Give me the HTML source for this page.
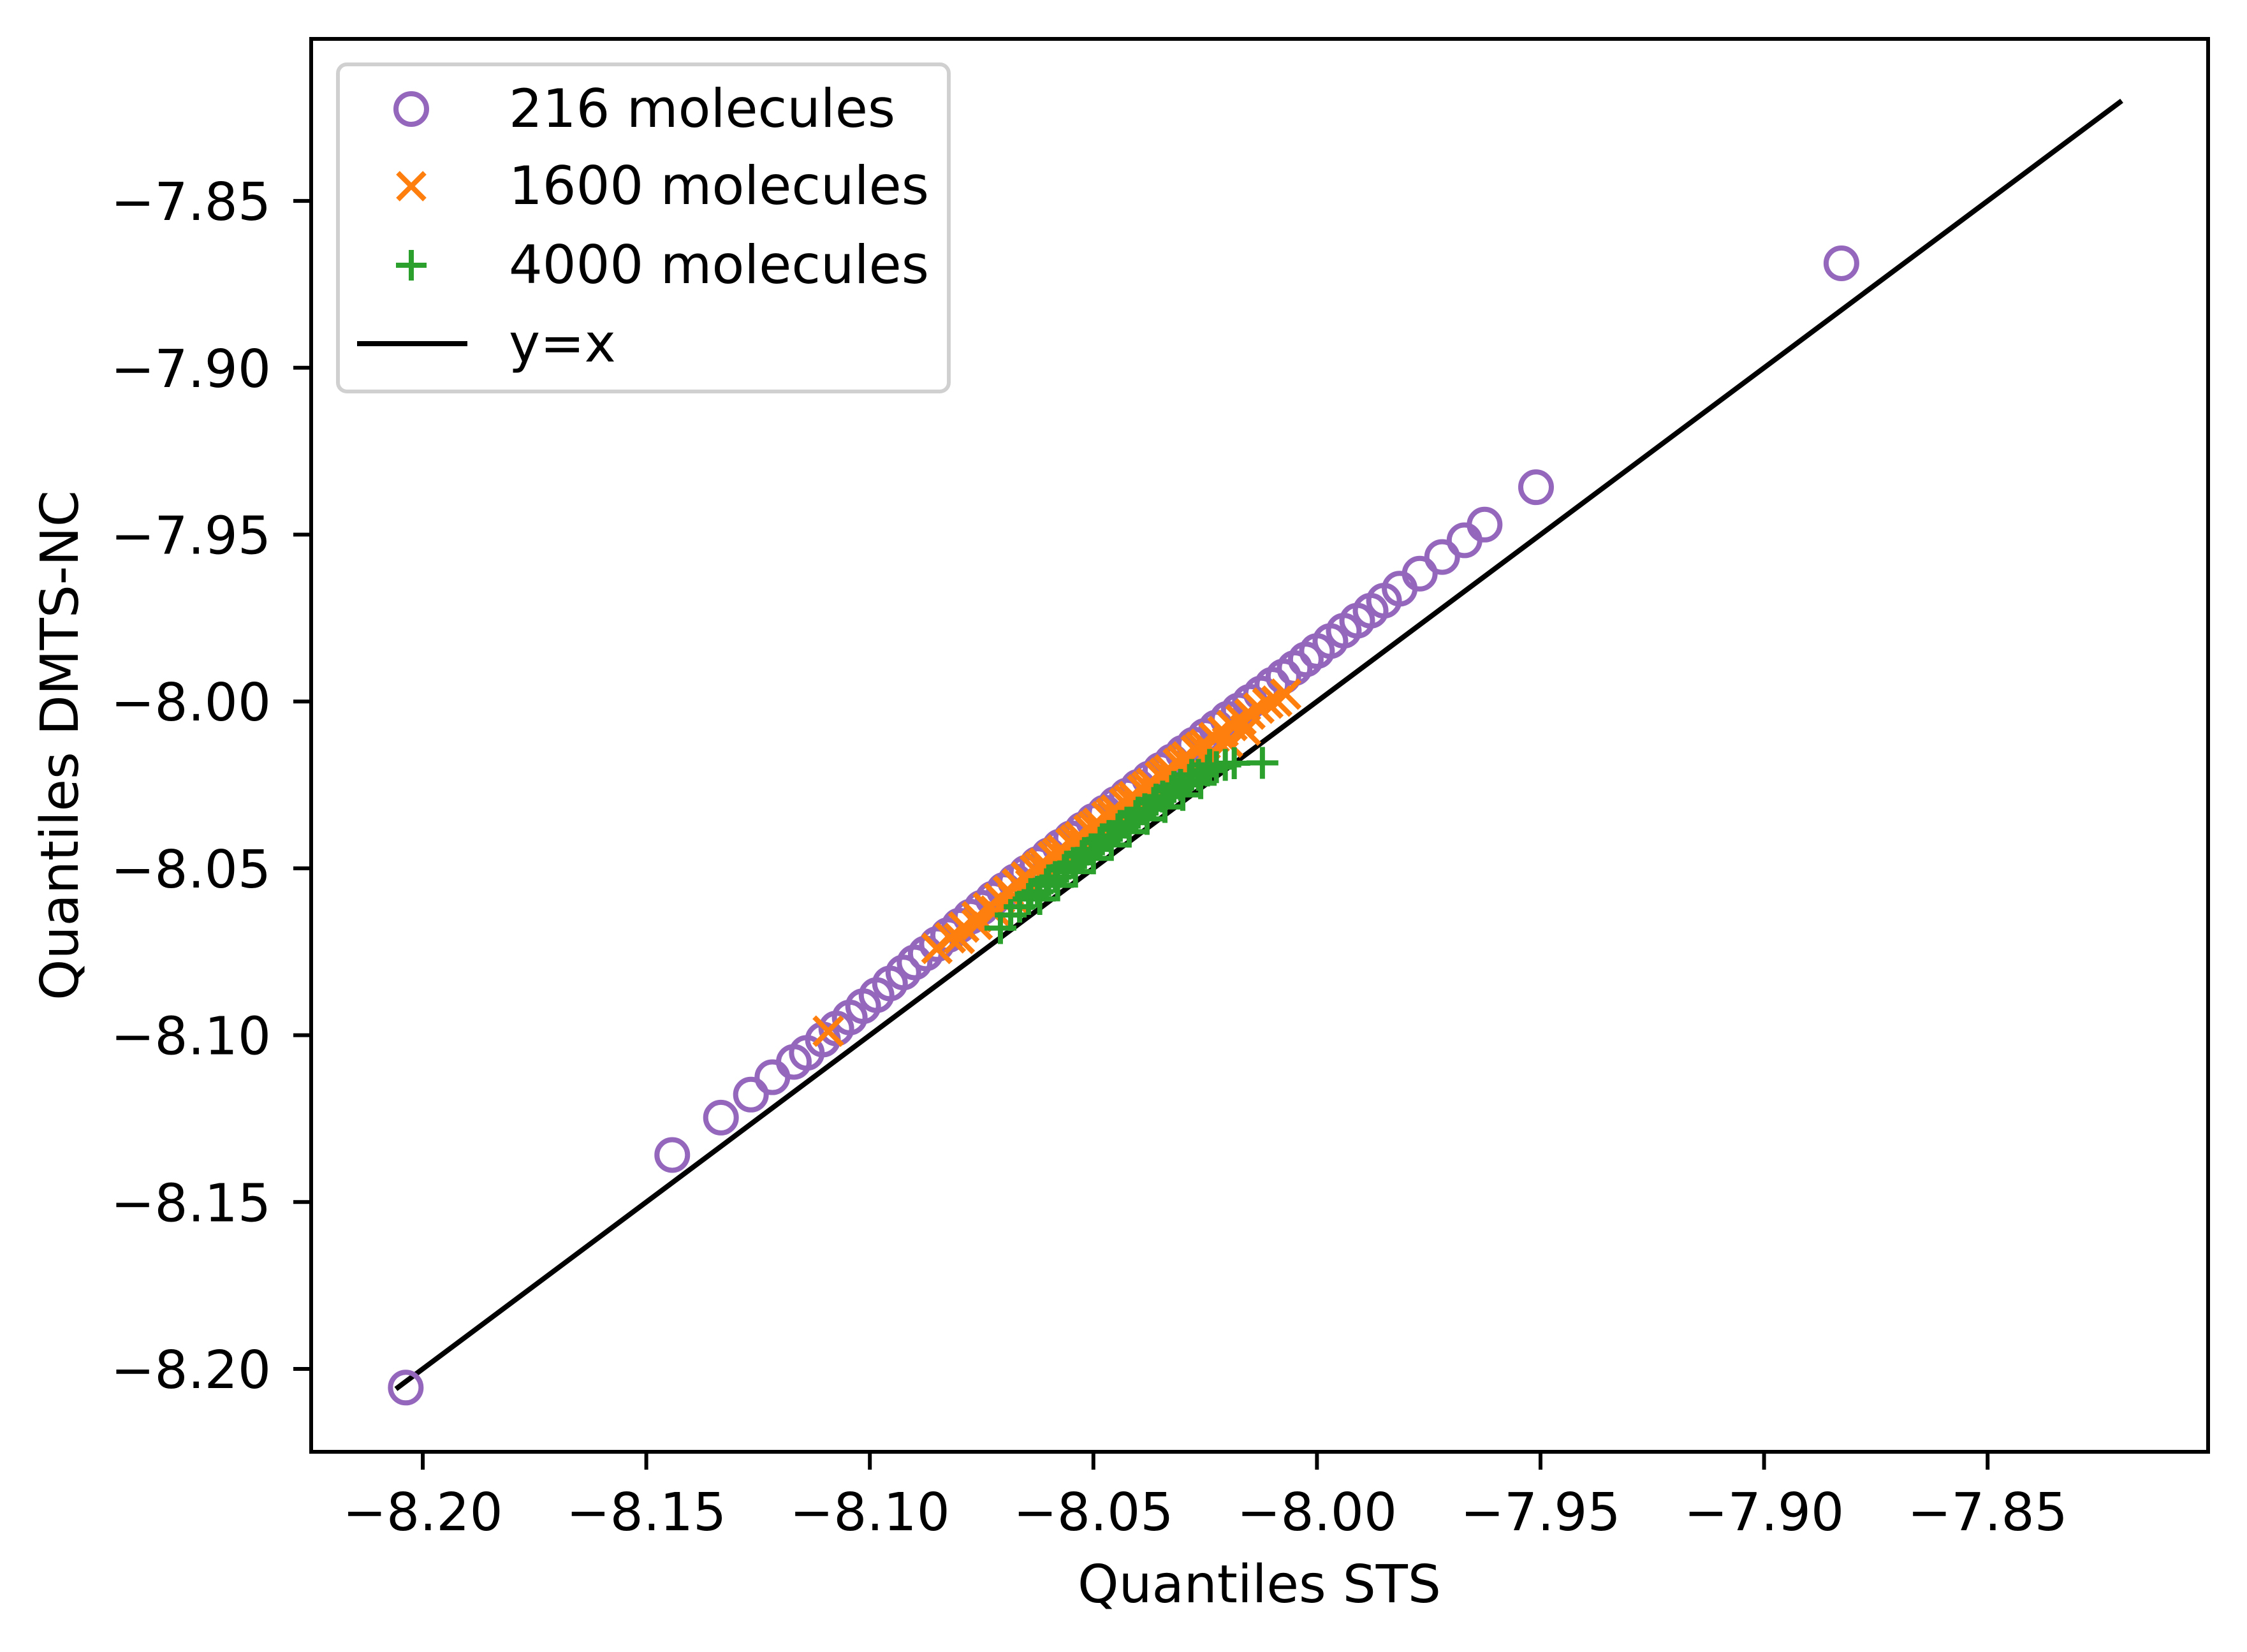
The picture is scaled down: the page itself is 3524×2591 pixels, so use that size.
<!DOCTYPE html>
<html><head><meta charset="utf-8"><style>
html,body{margin:0;padding:0;background:#fff}
svg{display:block}
text{font-family:"DejaVu Sans","Liberation Sans",sans-serif;fill:#000}
</style></head><body>
<svg id="chart" width="3524" height="2591" viewBox="0 0 3524 2591" xmlns="http://www.w3.org/2000/svg">
<rect x="0" y="0" width="3524" height="2591" fill="#fff"/>
<g id="marks"></g>
<g id="axes"></g>
<text x="1975" y="2513" font-size="82" text-anchor="middle">Quantiles STS</text>
<text x="0" y="0" font-size="82" text-anchor="middle" transform="translate(122,1169) rotate(-90)">Quantiles DMTS-NC</text>
<g>
<rect x="530" y="101" width="958" height="513" rx="14" fill="#fff" fill-opacity="0.8" stroke="#d0d0d0" stroke-width="6"/>
<circle cx="645" cy="171" r="24" fill="none" stroke="#9467bd" stroke-width="8"/>
<text x="798" y="199" font-size="83">216 molecules</text>
<path d="M624 271 L666 313 M666 271 L624 313" stroke="#ff7f0e" stroke-width="8"/>
<text x="798" y="320" font-size="83">1600 molecules</text>
<path d="M621 416 L669 416 M645 392 L645 440" stroke="#2ca02c" stroke-width="8"/>
<text x="798" y="444" font-size="83">4000 molecules</text>
<line x1="560" y1="539" x2="733" y2="539" stroke="#000" stroke-width="8"/>
<text x="798" y="567" font-size="83">y=x</text>
</g>
</svg>
<script>
const xTicks = [-8.20,-8.15,-8.10,-8.05,-8.00,-7.95,-7.90,-7.85];
const yTicks = [-8.20,-8.15,-8.10,-8.05,-8.00,-7.95,-7.90,-7.85];
const xTickLabels = ["\u22128.20","\u22128.15","\u22128.10","\u22128.05","\u22128.00","\u22127.95","\u22127.90","\u22127.85"];
const yTickLabels = ["\u22128.20","\u22128.15","\u22128.10","\u22128.05","\u22128.00","\u22127.95","\u22127.90","\u22127.85"];
const lineX = [-8.206,-7.820];
const purpleX = [-8.2038,-8.1442,-8.1333,-8.1266,-8.1218,-8.1170,-8.1141,-8.1105,-8.1075,-8.1045,-8.1015,-8.0985,-8.0955,-8.0925,-8.0900,-8.0875,-8.0850,-8.0825,-8.0800,-8.0775,-8.0750,-8.0725,-8.0700,-8.0675,-8.0650,-8.0625,-8.0600,-8.0575,-8.0550,-8.0525,-8.0500,-8.0475,-8.0450,-8.0425,-8.0400,-8.0375,-8.0350,-8.0325,-8.0300,-8.0275,-8.0250,-8.0225,-8.0200,-8.0175,-8.0150,-8.0125,-8.0100,-8.0075,-8.0050,-8.0025,-8.0000,-7.9970,-7.9940,-7.9910,-7.9880,-7.9850,-7.9815,-7.9770,-7.9720,-7.9670,-7.9625,-7.9510,-7.8827];
const purpleY = [-8.2056,-8.1359,-8.1247,-8.1178,-8.1126,-8.1080,-8.1053,-8.1013,-8.0980,-8.0947,-8.0913,-8.0880,-8.0845,-8.0812,-8.0782,-8.0755,-8.0727,-8.0700,-8.0672,-8.0645,-8.0618,-8.0591,-8.0565,-8.0539,-8.0513,-8.0487,-8.0461,-8.0435,-8.0410,-8.0384,-8.0358,-8.0333,-8.0307,-8.0282,-8.0256,-8.0231,-8.0205,-8.0180,-8.0154,-8.0129,-8.0103,-8.0078,-8.0052,-8.0027,-8.0001,-7.9976,-7.9950,-7.9925,-7.9900,-7.9874,-7.9849,-7.9819,-7.9788,-7.9758,-7.9728,-7.9698,-7.9662,-7.9617,-7.9567,-7.9517,-7.9470,-7.9358,-7.8687];
const orangeX = [-8.1093,-8.0850,-8.0820,-8.0790,-8.0760,-8.0735,-8.0710,-8.0690,-8.0670,-8.0650,-8.0630,-8.0610,-8.0590,-8.0570,-8.0550,-8.0530,-8.0510,-8.0490,-8.0470,-8.0450,-8.0430,-8.0410,-8.0390,-8.0370,-8.0350,-8.0330,-8.0310,-8.0290,-8.0270,-8.0250,-8.0230,-8.0210,-8.0190,-8.0170,-8.0150,-8.0130,-8.0110,-8.0090,-8.0070,
 -8.0800,-8.0760,-8.0720,-8.0680,-8.0640,-8.0600,-8.0560,-8.0520,-8.0480,-8.0440,-8.0400,-8.0360,-8.0320,-8.0280,-8.0240,-8.0200,-8.0160,
 -8.0620,-8.0580,-8.0540,-8.0500,-8.0460,-8.0420,-8.0380,-8.0340,-8.0300,-8.0260];
const orangeY = [-8.0988,-8.0740,-8.0708,-8.0676,-8.0645,-8.0618,-8.0590,-8.0568,-8.0547,-8.0526,-8.0505,-8.0485,-8.0465,-8.0445,-8.0425,-8.0405,-8.0385,-8.0365,-8.0345,-8.0325,-8.0305,-8.0285,-8.0265,-8.0245,-8.0225,-8.0205,-8.0186,-8.0166,-8.0147,-8.0128,-8.0108,-8.0090,-8.0072,-8.0055,-8.0038,-8.0020,-8.0005,-7.9999,-7.9978,
 -8.0710,-8.0668,-8.0628,-8.0588,-8.0548,-8.0508,-8.0468,-8.0428,-8.0388,-8.0350,-8.0312,-8.0274,-8.0236,-8.0198,-8.0160,-8.0122,-8.0086,
 -8.0495,-8.0455,-8.0415,-8.0375,-8.0335,-8.0295,-8.0255,-8.0215,-8.0176,-8.0137];
const greenX = [-8.0708,-8.0685,-8.0665,-8.0645,-8.0625,-8.0605,-8.0585,-8.0565,-8.0545,-8.0525,-8.0505,-8.0485,-8.0465,-8.0445,-8.0425,-8.0405,-8.0385,-8.0365,-8.0345,-8.0325,-8.0305,-8.0285,-8.0265,-8.0245,-8.0225,-8.0205,-8.0185,-8.0122,
 -8.0640,-8.0600,-8.0560,-8.0520,-8.0480,-8.0440,-8.0400,-8.0360,-8.0320,-8.0280,-8.0240,
 -8.0620,-8.0580,-8.0540,-8.0500,-8.0460,-8.0420,-8.0380,-8.0340,-8.0300,-8.0260];
const greenY = [-8.0679,-8.0640,-8.0615,-8.0592,-8.0570,-8.0548,-8.0526,-8.0505,-8.0484,-8.0463,-8.0443,-8.0423,-8.0403,-8.0383,-8.0363,-8.0343,-8.0323,-8.0304,-8.0285,-8.0268,-8.0250,-8.0235,-8.0220,-8.0207,-8.0197,-8.0190,-8.0185,-8.0184,
 -8.0577,-8.0536,-8.0495,-8.0454,-8.0413,-8.0373,-8.0333,-8.0294,-8.0256,-8.0220,-8.0190,
 -8.0592,-8.0551,-8.0510,-8.0470,-8.0430,-8.0390,-8.0352,-8.0316,-8.0280,-8.0245];

const NS = "http://www.w3.org/2000/svg";
const AX = {left:488, right:3463, top:61, bottom:2277};
function sx(v){ return 663 + (v + 8.20) / 0.05 * 350.6; }
function sy(v){ return 2147 - (v + 8.20) / 0.05 * 261.7; }
function mk(tag, attrs, parent){
  const e = document.createElementNS(NS, tag);
  for (const k in attrs) e.setAttribute(k, attrs[k]);
  parent.appendChild(e);
  return e;
}
const marks = document.getElementById('marks');
const axes = document.getElementById('axes');

const ln = mk('line', {x1:sx(lineX[0]), y1:sy(lineX[0]), x2:sx(lineX[1]), y2:sy(lineX[1]), stroke:'#000', 'stroke-width':8}, marks);



purpleX.forEach((xv, i) => {
  const c = mk('circle', {cx:sx(xv), cy:sy(purpleY[i]), r:24, fill:'none', stroke:'#9467bd', 'stroke-width':8}, marks);
  
  
});
orangeX.forEach((xv, i) => {
  const cx = sx(xv), cy = sy(orangeY[i]), h = 22;
  const p = mk('path', {d:`M${cx-h} ${cy-h} L${cx+h} ${cy+h} M${cx+h} ${cy-h} L${cx-h} ${cy+h}`, stroke:'#ff7f0e', 'stroke-width':8, fill:'none'}, marks);
  
  
});
greenX.forEach((xv, i) => {
  const cx = sx(xv), cy = sy(greenY[i]), h = 25;
  const p = mk('path', {d:`M${cx-h} ${cy} L${cx+h} ${cy} M${cx} ${cy-h} L${cx} ${cy+h}`, stroke:'#2ca02c', 'stroke-width':8, fill:'none'}, marks);
  
  
});

const frame = mk('rect', {x:AX.left, y:AX.top, width:AX.right-AX.left, height:AX.bottom-AX.top, fill:'none', stroke:'#000', 'stroke-width':6}, axes);



xTicks.forEach((v, i) => {
  const x = sx(v);
  const t = mk('line', {x1:x, y1:AX.bottom, x2:x, y2:AX.bottom+28, stroke:'#000', 'stroke-width':6}, axes);
  
  
  const lb = mk('text', {x:x, y:2400, 'font-size':82, 'text-anchor':'middle'}, axes);
  lb.textContent = xTickLabels[i];
  
  
});
yTicks.forEach((v, i) => {
  const y = sy(v);
  const t = mk('line', {x1:AX.left-28, y1:y, x2:AX.left, y2:y, stroke:'#000', 'stroke-width':6}, axes);
  
  
  const lb = mk('text', {x:425, y:y+30, 'font-size':82, 'text-anchor':'end'}, axes);
  lb.textContent = yTickLabels[i];
  
  
});
</script>
</body></html>
